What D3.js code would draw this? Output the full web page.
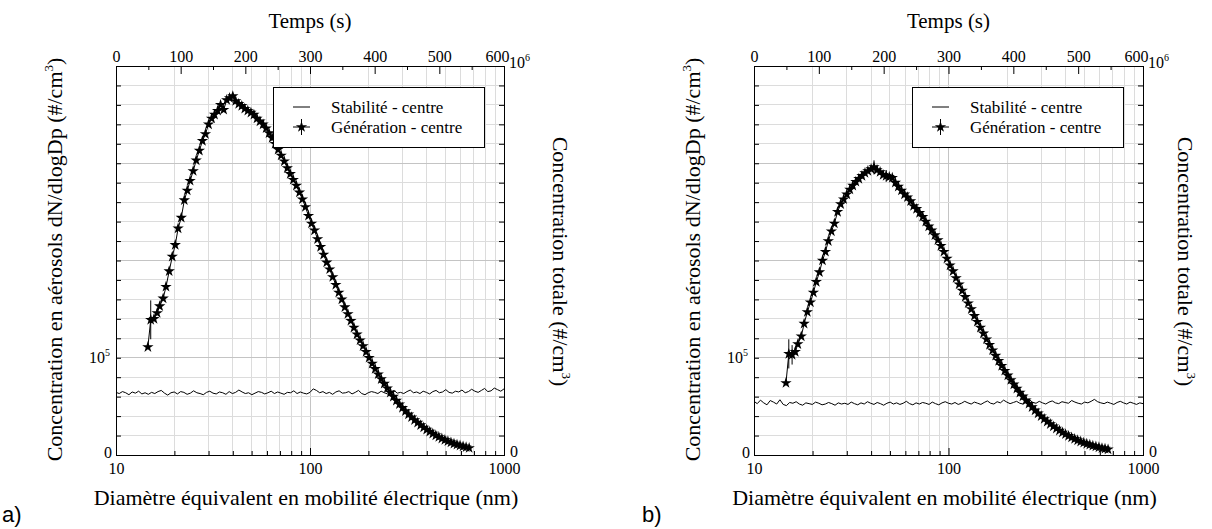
<!DOCTYPE html>
<html>
<head>
<meta charset="utf-8">
<title>Granulométrie - stabilité et génération</title>
<script src="https://cdn.jsdelivr.net/npm/d3@7"></script>
<style>
body { margin: 0; background: #fff; }
svg text { font-family: "Liberation Serif", "Times New Roman", serif; fill: #000; }
svg text.lettre { font-family: "Liberation Sans", Arial, sans-serif; }
</style>
</head>
<body>
<svg width="1212" height="529"></svg>
<script>

// diamètres des canaux SMPS (nm)
var diam = [14.6,15.1,15.7,16.3,16.8,17.5,18.1,18.8,19.5,20.2,
  20.9,21.7,22.5,23.3,24.1,25.0,25.9,26.9,27.9,28.9,
  30.0,31.1,32.2,33.4,34.6,35.9,37.2,38.5,40.0,41.4,
  42.9,44.5,46.1,47.8,49.6,51.4,53.3,55.2,57.3,59.4,
  61.5,63.8,66.1,68.5,71.0,73.7,76.4,79.1,82.0,85.1,
  88.2,91.4,94.7,98.2,101.8,105.5,109.4,113.4,117.6,121.9,
  126.3,131.0,135.8,140.7,145.9,151.2,156.8,162.5,168.5,174.7,
  181.1,187.7,194.6,201.7,209.1,216.7,224.7,232.9,241.4,250.3,
  259.5,269.0,278.8,289.0,299.6,310.6,322.0,333.8,346.0,358.7,
  371.8,385.4,399.5,414.2,429.4,445.1,461.4,478.3,495.8,514.0,
  532.8,552.3,572.5,593.5,615.3,637.8,661.2];

// dN/dlogDp en milliers de #/cm3
var genA = [111,139,140,146,153,161,173,189,204,216,
  233,244,262,272,282,292,303,313,323,330,
  340,346,350,354,360,355,365,367,369,364,
  361,359,356,354,352,350,346,343,340,336,
  331,326,320,314,308,302,295,289,283,277,
  270,263,255,246,238,231,222,214,206,198,
  191,183,175,167,160,152,145,138,131,124,
  118,112,106,100,94,88.5,83,78,73.3,68.6,
  64.2,60,55.9,52.2,48.5,45.1,41.8,38.8,35.9,33.2,
  30.7,28.3,26.1,24,22,20.2,18.5,16.9,15.5,14.1,
  12.9,11.7,10.7,9.7,8.8,8,7.2];

var genB = [74,104,103,106,114,122,135,147,157,167,
  178,188,200,209,220,230,238,250,258,263,
  268,273,277,281,284,287,290,292,294,296,
  293,291,288,287,286,285,280,276,272,268,
  265,261,256,253,249,245,240,235,231,226,
  221,215,209,202,195,189,182,175.5,169,162.5,
  156,150,143,137,131,125,119,113.3,107.7,102.1,
  96.8,91.7,86.6,81.8,77.1,72.6,68.3,64.1,60.2,56.3,
  52.7,49.2,45.9,42.8,39.8,37,34.3,31.8,29.4,27.2,
  25.1,23.1,21.3,19.6,18,16.5,15.1,13.8,12.6,11.5,
  10.5,9.5,8.7,7.9,7.1,6.5,5.8];

// barres d'erreur : [indice du canal, demi-hauteur en milliers]
var errA = [[1, 20]];
var errB = [[1, 15], [2, 10], [29, 7], [33, 6]];

// concentration totale (milliers de #/cm3), un point toutes les 5 s
var temps = d3.range(0, 601, 5);
var stabA = [161,158,163,160,155,162,159,164,157,160,
  156,161,158,163,166,159,154,160,162,157,
  163,161,156,159,165,160,158,155,161,164,
  159,157,162,160,156,163,158,161,167,162,
  158,160,155,159,163,161,157,160,164,158,
  162,159,156,161,160,165,158,162,159,157,
  161,170,166,160,163,158,161,156,162,165,
  159,160,163,157,161,166,158,155,160,163,
  161,158,164,160,157,162,166,159,161,158,
  163,167,160,162,158,164,161,157,163,166,
  160,162,168,161,159,164,162,167,160,163,
  169,164,161,166,171,163,165,172,168,164,
  170];
var stabB = [138,132,141,134,129,140,136,131,142,130,
  127,135,133,137,131,128,134,132,130,136,
  133,129,131,135,132,128,134,131,133,130,
  136,132,129,134,131,137,133,130,135,132,
  128,133,136,131,134,130,133,138,132,129,
  134,131,135,133,130,136,132,129,134,137,
  133,131,135,130,133,138,134,131,136,133,
  130,135,139,133,131,137,134,141,136,132,
  135,138,133,131,137,142,135,133,138,134,
  131,136,139,134,132,137,135,133,140,136,
  133,131,136,134,138,143,137,134,132,136,
  133,130,135,138,134,131,136,133,130,134,
  132];

var legendLabels = ["Stabilité - centre", "Génération - centre"];
var topTicks = [0, 100, 200, 300, 400, 500, 600];
var serif = '"Liberation Serif", "Times New Roman", serif';

var svg = d3.select("svg");

function drawPanel(p) {
  var g = svg.append("g");
  var x = d3.scaleLog().domain([10, 1000]).range([p.left, p.right]);
  var xt = d3.scaleLinear().domain([0, 600]).range([p.left, p.right]);
  var y = d3.scaleLinear().domain([0, 400000]).range([p.bottom, p.top]);
  var yr = d3.scaleLinear().domain([0, 1000000]).range([p.bottom, p.top]);

  var logGrid = x.ticks().filter(function(d) { return d > 10 && d < 1000; });
  var yGrid = d3.range(20000, 400000, 20000);

  // grille
  var grid = g.append("g").attr("shape-rendering", "crispEdges");
  grid.selectAll(".gx").data(logGrid).join("line")
      .attr("x1", function(d) { return x(d); })
      .attr("x2", function(d) { return x(d); })
      .attr("y1", p.top).attr("y2", p.bottom)
      .attr("stroke", function(d) { return d == 100 ? "#c4c4c4" : "#dcdcdc"; });
  grid.selectAll(".gy").data(yGrid).join("line")
      .attr("y1", function(d) { return y(d); })
      .attr("y2", function(d) { return y(d); })
      .attr("x1", p.left).attr("x2", p.right)
      .attr("stroke", function(d) { return d % 100000 == 0 ? "#c4c4c4" : "#dcdcdc"; });

  // axes (graduations vers l'intérieur)
  var ax = g.append("g").attr("font-family", serif).attr("font-size", 16);

  ax.append("g").attr("transform", "translate(0," + p.bottom + ")")
      .call(d3.axisBottom(x).tickValues([10, 100, 1000]).tickSize(-7).tickPadding(8)
        .tickFormat(d3.format("d")))
      .attr("font-family", serif).attr("font-size", 16);
  ax.append("g").attr("transform", "translate(0," + p.bottom + ")")
      .call(d3.axisBottom(x).tickValues(logGrid.filter(function(d) { return d != 100; }))
        .tickSize(-4).tickFormat(""));

  ax.append("g").attr("transform", "translate(0," + p.top + ")")
      .call(d3.axisTop(xt).tickValues(topTicks).tickSize(-8).tickPadding(4))
      .attr("font-family", serif).attr("font-size", 16)
      .selectAll("text").attr("dx", function(d) { return d == 600 ? -7 : 0; });
  ax.append("g").attr("transform", "translate(0," + p.top + ")")
      .call(d3.axisTop(xt).tickValues([50, 150, 250, 350, 450, 550]).tickSize(-4).tickFormat(""));

  ax.append("g").attr("transform", "translate(" + p.left + ",0)")
      .call(d3.axisLeft(y).tickValues(yGrid).tickSize(-5).tickFormat(""));
  ax.append("g").attr("transform", "translate(" + p.right + ",0)")
      .call(d3.axisRight(yr).tickValues(d3.range(50000, 1000000, 50000)).tickSize(-5).tickFormat(""));

  ax.selectAll(".domain").remove();
  ax.selectAll(".tick line").attr("stroke", "#000");

  // étiquettes des axes verticaux
  ax.append("text").attr("x", p.left - 4).attr("y", y(0) + 3)
      .attr("text-anchor", "end").text("0");
  var l5 = ax.append("text").attr("x", p.left - 6).attr("y", y(100000) + 5)
      .attr("text-anchor", "end");
  l5.append("tspan").text("10");
  l5.append("tspan").attr("font-size", 10).attr("dy", -7).text("5");

  ax.append("text").attr("x", p.right + 6).attr("y", yr(0) + 2).text("0");
  var l6 = ax.append("text").attr("x", p.right + 5).attr("y", yr(1000000) + 2);
  l6.append("tspan").text("10");
  l6.append("tspan").attr("font-size", 10).attr("dy", -7).text("6");

  // cadre
  g.append("rect").attr("x", p.left).attr("y", p.top)
      .attr("width", p.right - p.left).attr("height", p.bottom - p.top)
      .attr("fill", "none").attr("stroke", "#000").attr("shape-rendering", "crispEdges");

  // stabilité : concentration totale en fonction du temps
  var stabLine = d3.line()
      .x(function(d, i) { return xt(temps[i]); })
      .y(function(d) { return yr(d * 1000); });
  g.append("path").datum(p.stab)
      .attr("d", stabLine).attr("fill", "none").attr("stroke", "#000").attr("stroke-width", 1);

  // génération : distribution granulométrique
  var genLine = d3.line()
      .x(function(d, i) { return x(diam[i]); })
      .y(function(d) { return y(d * 1000); });
  g.append("path").datum(p.gen)
      .attr("d", genLine).attr("fill", "none").attr("stroke", "#000").attr("stroke-width", 1);

  g.selectAll(".err").data(p.err).join("line")
      .attr("x1", function(d) { return x(diam[d[0]]); })
      .attr("x2", function(d) { return x(diam[d[0]]); })
      .attr("y1", function(d) { return y((p.gen[d[0]] - d[1]) * 1000); })
      .attr("y2", function(d) { return y((p.gen[d[0]] + d[1]) * 1000); })
      .attr("stroke", "#000");

  var star = d3.symbol(d3.symbolStar, 40);
  g.selectAll(".star").data(p.gen).join("path")
      .attr("transform", function(d, i) { return "translate(" + x(diam[i]) + "," + y(d * 1000) + ")"; })
      .attr("d", star).attr("fill", "#000");

  // légende
  var lx = p.right - 231, ly = p.top + 21;
  var lg = g.append("g");
  lg.append("rect").attr("x", lx).attr("y", ly).attr("width", 211).attr("height", 60)
      .attr("fill", "#fff").attr("stroke", "#000").attr("shape-rendering", "crispEdges");
  lg.selectAll(".ll").data(legendLabels).join("line")
      .attr("x1", lx + 20).attr("x2", lx + 37)
      .attr("y1", function(d, i) { return ly + 20 + i * 20; })
      .attr("y2", function(d, i) { return ly + 20 + i * 20; })
      .attr("stroke", "#000");
  lg.append("line").attr("x1", lx + 28.5).attr("x2", lx + 28.5)
      .attr("y1", ly + 32).attr("y2", ly + 48).attr("stroke", "#000");
  lg.append("path").attr("transform", "translate(" + (lx + 28.5) + "," + (ly + 40) + ")")
      .attr("d", star).attr("fill", "#000");
  lg.selectAll(".lt").data(legendLabels).join("text")
      .attr("x", lx + 58)
      .attr("y", function(d, i) { return ly + 26 + i * 20; })
      .attr("font-size", 17)
      .text(function(d) { return d; });

  // titres
  var cx = (p.left + p.right) / 2, cy = (p.top + p.bottom) / 2;
  g.append("text").attr("x", cx).attr("y", 28).attr("text-anchor", "middle")
      .attr("font-size", 21).text("Temps (s)");
  g.append("text").attr("x", cx - 4).attr("y", 505).attr("text-anchor", "middle")
      .attr("font-size", 22).text("Diamètre équivalent en mobilité électrique (nm)");

  var tl = g.append("text").attr("transform", "translate(" + (p.left - 54) + "," + (cy - 1) + ") rotate(-90)")
      .attr("text-anchor", "middle").attr("font-size", 22);
  tl.append("tspan").text("Concentration en aérosols dN/dlogDp (#/cm");
  tl.append("tspan").attr("font-size", 13).attr("dy", -9).text("3");
  tl.append("tspan").attr("dy", 9).text(")");

  var tr = g.append("text").attr("transform", "translate(" + (p.right + p.rightTitle) + "," + (cy + 1) + ") rotate(90)")
      .attr("text-anchor", "middle").attr("font-size", 22);
  tr.append("tspan").text("Concentration totale (#/cm");
  tr.append("tspan").attr("font-size", 13).attr("dy", -9).text("3");
  tr.append("tspan").attr("dy", 9).text(")");

  g.append("text").attr("class", "lettre").attr("x", p.letterX).attr("y", 522)
      .attr("font-size", 22).text(p.letter);
}

drawPanel({left: 116, right: 504, top: 66, bottom: 455, gen: genA, stab: stabA, err: errA,
  rightTitle: 49, letter: "a)", letterX: 2});
drawPanel({left: 754, right: 1143, top: 66, bottom: 455, gen: genB, stab: stabB, err: errB,
  rightTitle: 35, letter: "b)", letterX: 642});

</script>
</body>
</html>
